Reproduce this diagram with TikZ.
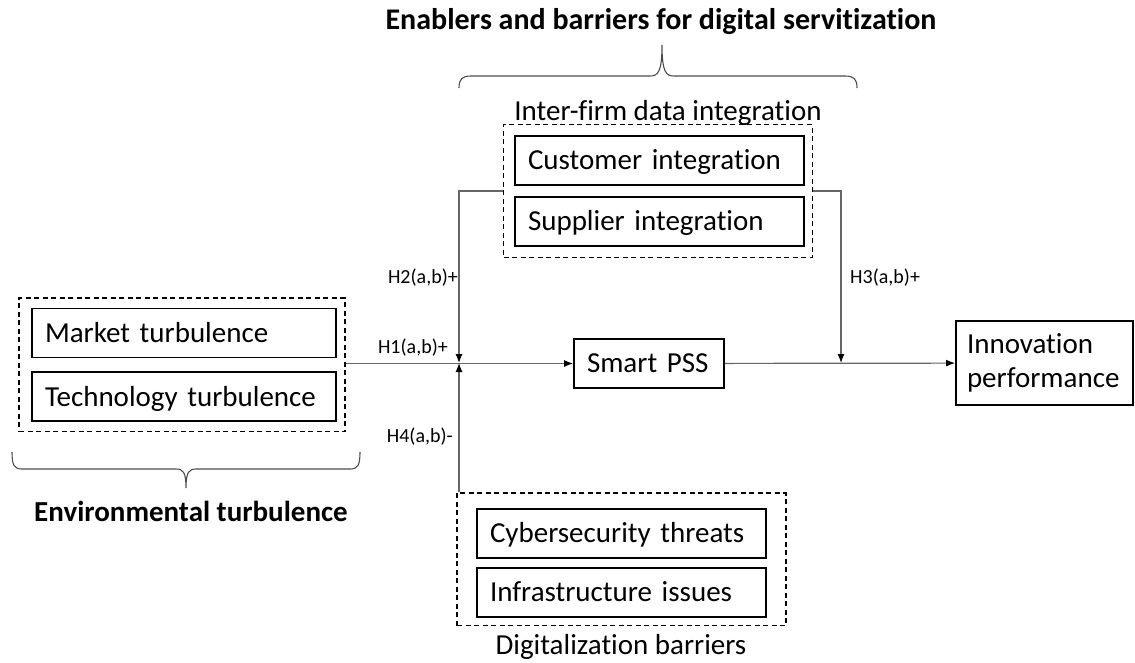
\documentclass[tikz,border=0pt]{standalone}
\usepackage{fontspec}
\setmainfont{Carlito}[Ligatures=NoCommon]
\usepackage{tikz}
\usetikzlibrary{positioning}
\usetikzlibrary{fit}
\usetikzlibrary{arrows.meta}
\usetikzlibrary{calc}
\newlength{\vgap}
\newcommand{\boxfont}{\fontsize{29}{34}\selectfont}
\newcommand{\titlefont}{\fontsize{30}{36}\selectfont\bfseries}
\newcommand{\hypfont}{\fontsize{20}{24}\selectfont}
\tikzstyle{box}=[draw, rectangle, line width=1.8pt, inner xsep=13pt, inner ysep=0pt, align=left, font=\boxfont]
\tikzstyle{factor}=[box, minimum height=49pt, text height=22pt, text depth=3.3pt]
\tikzstyle{group}=[draw, rectangle, line width=1.4pt, dash pattern=on 5pt off 3.5pt]
\tikzstyle{hyp}=[font=\hypfont]
\tikzstyle{heading}=[font=\boxfont]
\tikzstyle{link}=[draw=black!60, line width=1.2pt, -{Latex[length=9pt, width=7pt, color=black]}]
\tikzstyle{bracket}=[draw=black!70, line width=1.1pt]
\begin{document}
\begin{tikzpicture}[x=1pt, y=-1pt, inner sep=0pt]
				\useasboundingbox (0,0) rectangle (1135,662);
				
				\setlength{\vgap}{13pt}
				
				% environmental turbulence
				\node (market) [factor, text width=278pt] at (184,333) {Market turbulence};
				\node (tech) [factor, text width=278pt, below=\vgap of market] {Technology turbulence};
				\node (tplate) [group, fit=(market) (tech), inner xsep=10pt, inner ysep=9.5pt, xshift=-2pt] {};
				\node (tlabel) [heading] at (191,511) {\textbf{Environmental turbulence}};
				
				% inter-firm data integration
				\node (customer) [factor, text width=263pt] at (659.5,160.5) {Customer integration};
				\node (supplier) [factor, text width=263pt, below=10pt of customer] {Supplier integration};
				\node (dplate) [group, fit=(customer) (supplier), inner xsep=9pt, inner ysep=10.5pt, xshift=-1.5pt] {};
				\node (dlabel) [heading] at (668,113) {Inter-firm data integration};
				\node (toptitle) [heading, font=\titlefont] at (661,22) {Enablers and barriers for digital servitization};
				
				% digitalization barriers
				\node (cyber) [factor, text width=263pt] at (621.5,533.5) {Cybersecurity threats};
				\node (infra) [factor, text width=263pt, below=8pt of cyber] {Infrastructure issues};
				\node (bplate) [group, fit=(cyber) (infra), inner xsep=19pt, inner ysep=11.5pt, yshift=3.5pt] {};
				\node (blabel) [heading] at (621,647) {Digitalization barriers};
				
				% main path
				\node (pss) [factor, text width=124pt] at (649,363.5) {Smart PSS};
				\node (innov) [box, text width=155pt, inner xsep=11pt, minimum height=84pt] at (1044.5,363) {Innovation\\performance};
				
				\coordinate (j1) at (459,363);
				\coordinate (j3) at (841,363);
				\coordinate (dgap) at ($(customer.south)!0.5!(supplier.north)$);
				
				\draw [link] (tplate.east |- pss) -- (pss);
				\draw [link] (dplate.west |- dgap) -| (j1);
				\draw [link] (j1 |- bplate.north) -- (j1);
				\draw [link] (dplate.east |- dgap) -| (j3);
				\draw [link] (pss) -- (innov);
				
				\node (h1label) [hyp, anchor=east] at (448,348) {H1(a,b)+};
				\node (h2label) [hyp, anchor=east] at (458,278) {H2(a,b)+};
				\node (h3label) [hyp, anchor=west] at (850,278) {H3(a,b)+};
				\node (h4label) [hyp, anchor=east] at (453,437) {H4(a,b)-};
				
				% braces
				\draw [bracket] (459,88) .. controls (459,79) and (462,76) .. (471,76) -- (650,76) .. controls (658,76) and (662,72) .. (662,45) .. controls (662,72) and (666,76) .. (674,76) -- (845,76) .. controls (854,76) and (857,79) .. (857,88);
				\draw [bracket] (12,452) .. controls (12,465) and (14,469) .. (22,469) -- (176,469) .. controls (183,469) and (186,472) .. (186,488) .. controls (186,472) and (189,469) .. (196,469) -- (350,469) .. controls (358,469) and (360,465) .. (360,452);
\end{tikzpicture}
\end{document}
